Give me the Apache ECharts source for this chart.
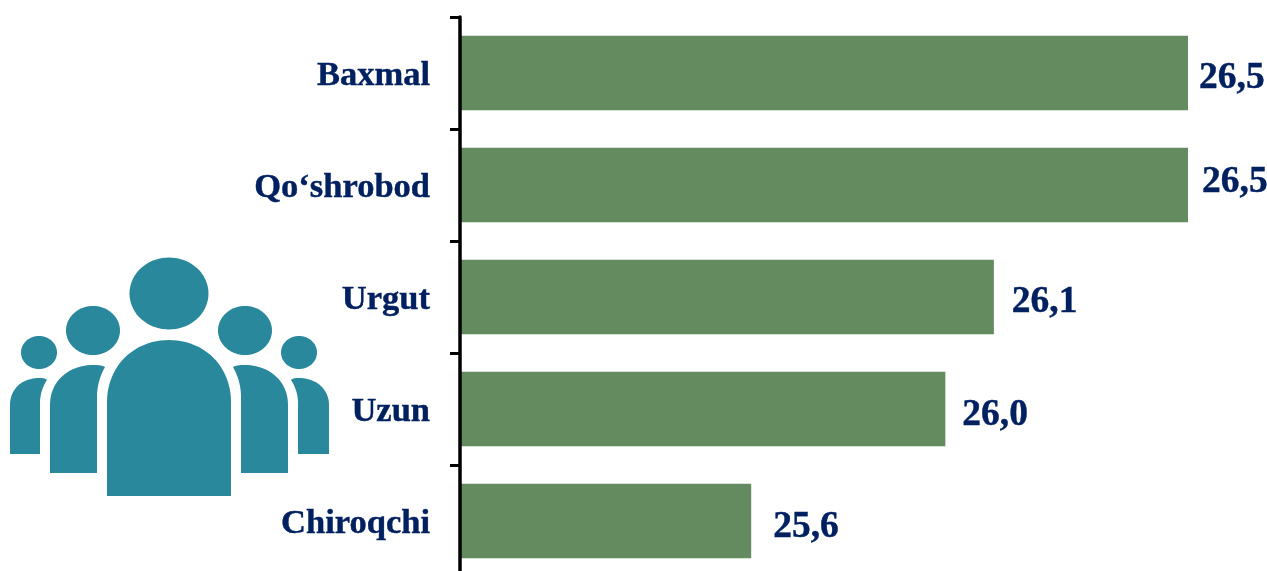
<!DOCTYPE html>
<html><head><meta charset="utf-8">
<style>html,body{margin:0;padding:0;background:#fff}#c{width:1267px;height:571px}</style>
<script src="https://cdn.jsdelivr.net/npm/echarts@6/dist/echarts.min.js"></script>
</head><body><div id="c"></div>
<script>
const categories = ['Baxmal', 'Qo‘shrobod', 'Urgut', 'Uzun', 'Chiroqchi'];
const values = [26.5, 26.5, 26.1, 26.0, 25.6];
const labelShift = [[11, 5.5], [14, -2.5], [18, 5.5], [17, 6.5], [22, 6]];

const NAVY = '#002060', GREEN = '#638B5F', TEAL = '#2A889D';
const SERIF = '"Liberation Serif","Times New Roman",serif';

// Icon outlines: start point, then straight points (2 numbers) or cubic segments (6 numbers)
const bodyOutlines = [
  [[107,496],[107,402],[107,366,134,340,169,340],[204,340,231,366,231,402],[231,496]],
  [[50,473],[50,405],[50,380,70,365,93,365],[97,365,101,365,105,367],[100,376,97,386,97,397],[97,473]],
  [[288,473],[288,405],[288,380,268,365,245,365],[241,365,237,365,233,367],[238,376,241,386,241,397],[241,473]],
  [[10,454],[10,405],[10,389,22,378,39,378],[42,378,45,378,47,380],[43,386,40,394,40,403],[40,454]],
  [[329,454],[329,405],[329,389,316,378,299,378],[296,378,293,378,291,380],[295,386,298,394,298,403],[298,454]]
];
const heads = [[169,293.5,39.5,36],[93,330.5,27,24.5],[245,330.5,27,24.5],[39,352.5,18,16.5],[299,352.5,18,16.5]];

function outlinePoints(o) {
  const pts = [];
  o.forEach(s => {
    if (s.length === 2) { pts.push(s); return; }
    const p0 = pts[pts.length - 1];
    for (let k = 1; k <= 24; k++) {
      const t = k / 24, u = 1 - t;
      pts.push([
        u*u*u*p0[0] + 3*u*u*t*s[0] + 3*u*t*t*s[2] + t*t*t*s[4],
        u*u*u*p0[1] + 3*u*u*t*s[1] + 3*u*t*t*s[3] + t*t*t*s[5]
      ]);
    }
  });
  return pts;
}
function ellipsePoints(h) {
  const pts = [];
  for (let k = 0; k < 72; k++) {
    const a = k / 72 * Math.PI * 2;
    pts.push([h[0] + h[2] * Math.cos(a), h[1] + h[3] * Math.sin(a)]);
  }
  return pts;
}

const chart = echarts.init(document.getElementById('c'), null, {renderer: 'canvas'});
chart.setOption({
  animation: false,
  backgroundColor: '#fff',
  grid: {left: 460, top: 17, width: 728, height: 560, containLabel: false, outerBoundsMode: 'none'},
  xAxis: {type: 'value', min: 25, max: 26.5, show: false},
  yAxis: {
    type: 'category', inverse: true, data: categories, z: 5,
    axisLine: {show: true, lineStyle: {color: '#000', width: 3.5}},
    axisTick: {show: true, length: 10, lineStyle: {color: '#000', width: 3}},
    axisLabel: {
      color: NAVY, fontFamily: SERIF, fontWeight: 'bold', fontSize: 34.5, margin: 30,
      verticalAlign: 'top', lineHeight: 7, textBorderColor: NAVY, textBorderWidth: 0.4
    }
  },
  series: [{
    type: 'bar', barWidth: 74.5, z: 3,
    itemStyle: {color: GREEN},
    data: values.map((v, i) => ({value: v, label: {offset: labelShift[i]}})),
    label: {
      show: true, position: 'right', distance: 0,
      color: NAVY, fontFamily: SERIF, fontWeight: 'bold', fontSize: 37.5,
      textBorderColor: NAVY, textBorderWidth: 0.4,
      formatter: p => p.value.toFixed(1).replace('.', ',')
    }
  }],
  graphic: [
    ...bodyOutlines.map(o => ({type: 'polygon', shape: {points: outlinePoints(o)}, style: {fill: TEAL}})),
    ...heads.map(h => ({type: 'polygon', shape: {points: ellipsePoints(h)}, style: {fill: TEAL}}))
  ]
});
</script></body></html>
